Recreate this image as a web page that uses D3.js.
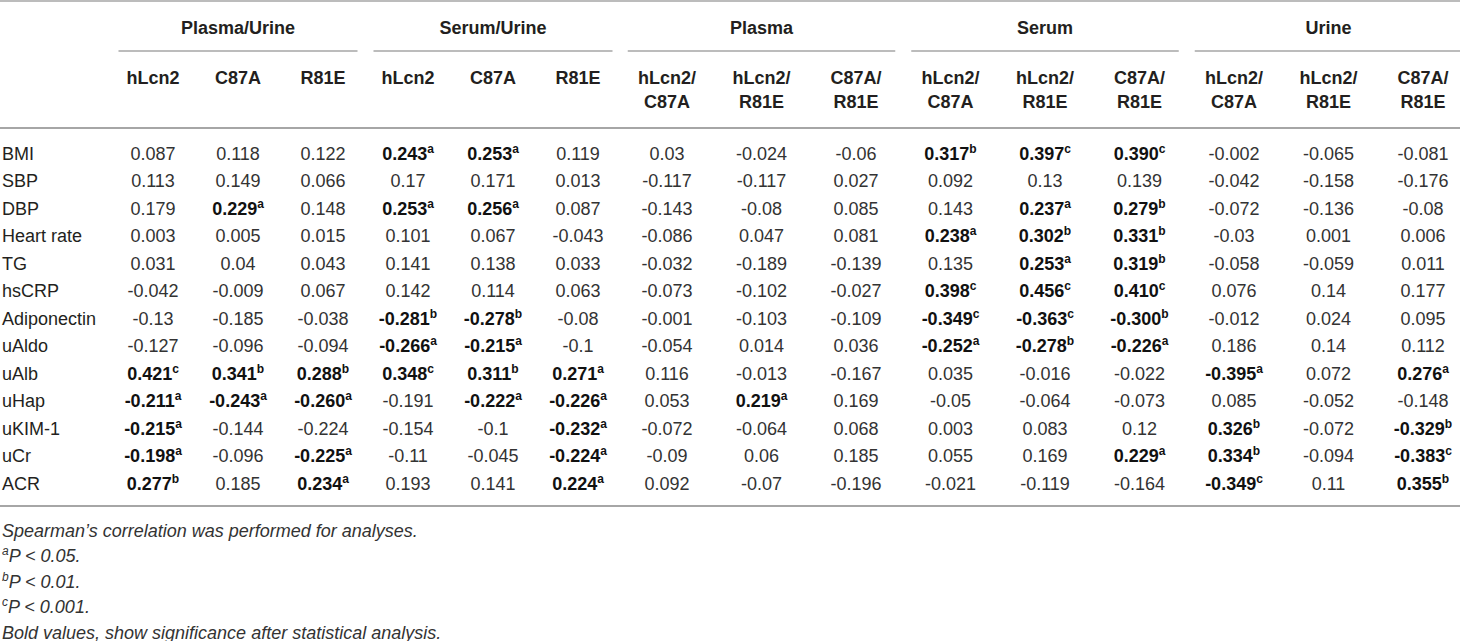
<!DOCTYPE html>
<html>
<head>
<meta charset="utf-8">
<script src="https://cdn.jsdelivr.net/npm/d3@7"></script>
<style>
  html, body { margin: 0; padding: 0; background: #fff; }
  svg { display: block; }
</style>
</head>
<body>
<svg id="chart" width="1460" height="641"></svg>
<script>
// ---------- DATA ----------
const rowLabels = ["BMI","SBP","DBP","Heart rate","TG","hsCRP","Adiponectin","uAldo","uAlb","uHap","uKIM-1","uCr","ACR"];

const groupLabels = ["Plasma/Urine","Serum/Urine","Plasma","Serum","Urine"];
const singleColLabels = ["hLcn2","C87A","R81E"];
const pairColLabels = [["hLcn2/","C87A"],["hLcn2/","R81E"],["C87A/","R81E"]];

// values (suffix letter = significance marker, shown bold)
const plasmaUrine_hLcn2 = ["0.087","0.113","0.179","0.003","0.031","-0.042","-0.13","-0.127","0.421c","-0.211a","-0.215a","-0.198a","0.277b"];
const plasmaUrine_C87A  = ["0.118","0.149","0.229a","0.005","0.04","-0.009","-0.185","-0.096","0.341b","-0.243a","-0.144","-0.096","0.185"];
const plasmaUrine_R81E  = ["0.122","0.066","0.148","0.015","0.043","0.067","-0.038","-0.094","0.288b","-0.260a","-0.224","-0.225a","0.234a"];
const serumUrine_hLcn2  = ["0.243a","0.17","0.253a","0.101","0.141","0.142","-0.281b","-0.266a","0.348c","-0.191","-0.154","-0.11","0.193"];
const serumUrine_C87A   = ["0.253a","0.171","0.256a","0.067","0.138","0.114","-0.278b","-0.215a","0.311b","-0.222a","-0.1","-0.045","0.141"];
const serumUrine_R81E   = ["0.119","0.013","0.087","-0.043","0.033","0.063","-0.08","-0.1","0.271a","-0.226a","-0.232a","-0.224a","0.224a"];
const plasma_hLcn2_C87A = ["0.03","-0.117","-0.143","-0.086","-0.032","-0.073","-0.001","-0.054","0.116","0.053","-0.072","-0.09","0.092"];
const plasma_hLcn2_R81E = ["-0.024","-0.117","-0.08","0.047","-0.189","-0.102","-0.103","0.014","-0.013","0.219a","-0.064","0.06","-0.07"];
const plasma_C87A_R81E  = ["-0.06","0.027","0.085","0.081","-0.139","-0.027","-0.109","0.036","-0.167","0.169","0.068","0.185","-0.196"];
const serum_hLcn2_C87A  = ["0.317b","0.092","0.143","0.238a","0.135","0.398c","-0.349c","-0.252a","0.035","-0.05","0.003","0.055","-0.021"];
const serum_hLcn2_R81E  = ["0.397c","0.13","0.237a","0.302b","0.253a","0.456c","-0.363c","-0.278b","-0.016","-0.064","0.083","0.169","-0.119"];
const serum_C87A_R81E   = ["0.390c","0.139","0.279b","0.331b","0.319b","0.410c","-0.300b","-0.226a","-0.022","-0.073","0.12","0.229a","-0.164"];
const urine_hLcn2_C87A  = ["-0.002","-0.042","-0.072","-0.03","-0.058","0.076","-0.012","0.186","-0.395a","0.085","0.326b","0.334b","-0.349c"];
const urine_hLcn2_R81E  = ["-0.065","-0.158","-0.136","0.001","-0.059","0.14","0.024","0.14","0.072","-0.052","-0.072","-0.094","0.11"];
const urine_C87A_R81E   = ["-0.081","-0.176","-0.08","0.006","0.011","0.177","0.095","0.112","0.276a","-0.148","-0.329b","-0.383c","0.355b"];

const footnotes = [
  {sup:"", text:"Spearman\u2019s correlation was performed for analyses."},
  {sup:"a", text:"P < 0.05."},
  {sup:"b", text:"P < 0.01."},
  {sup:"c", text:"P < 0.001."},
  {sup:"", text:"Bold values, show significance after statistical analysis."}
];

// ---------- BUILD TABLE MODEL ----------
const columns = [
  {key:"pu0", group:0, head:[singleColLabels[0]], vals:plasmaUrine_hLcn2},
  {key:"pu1", group:0, head:[singleColLabels[1]], vals:plasmaUrine_C87A},
  {key:"pu2", group:0, head:[singleColLabels[2]], vals:plasmaUrine_R81E},
  {key:"su0", group:1, head:[singleColLabels[0]], vals:serumUrine_hLcn2},
  {key:"su1", group:1, head:[singleColLabels[1]], vals:serumUrine_C87A},
  {key:"su2", group:1, head:[singleColLabels[2]], vals:serumUrine_R81E},
  {key:"p0", group:2, head:pairColLabels[0], vals:plasma_hLcn2_C87A},
  {key:"p1", group:2, head:pairColLabels[1], vals:plasma_hLcn2_R81E},
  {key:"p2", group:2, head:pairColLabels[2], vals:plasma_C87A_R81E},
  {key:"s0", group:3, head:pairColLabels[0], vals:serum_hLcn2_C87A},
  {key:"s1", group:3, head:pairColLabels[1], vals:serum_hLcn2_R81E},
  {key:"s2", group:3, head:pairColLabels[2], vals:serum_C87A_R81E},
  {key:"u0", group:4, head:pairColLabels[0], vals:urine_hLcn2_C87A},
  {key:"u1", group:4, head:pairColLabels[1], vals:urine_hLcn2_R81E},
  {key:"u2", group:4, head:pairColLabels[2], vals:urine_C87A_R81E}
];

const W = 1460;
const singleKeys = columns.filter(c => c.group < 2).map(c => c.key);
const pairKeys = columns.filter(c => c.group >= 2).map(c => c.key);
const xSingle = d3.scalePoint().domain(singleKeys).range([153, 578]);
const xPair = d3.scalePoint().domain(pairKeys).range([667, 1423]);
const xCol = k => singleKeys.includes(k) ? xSingle(k) : xPair(k);
const halfCell = k => singleKeys.includes(k) ? xSingle.step()/2 : xPair.step()/2;

const yRow = d3.scalePoint().domain(rowLabels).range([153, 483]);
const yFoot = d3.scalePoint().domain(d3.range(footnotes.length)).range([530, 632]);

const FS = 18;
const baseOff = 6.5;
const fontFam = "'Liberation Sans', Arial, Helvetica, sans-serif";
const lineColor = "#a6a6a6";
const textColor = "#231f20";

const svg = d3.select("#chart").attr("font-family", fontFam);

// ---------- RULES ----------
svg.append("line").attr("x1",0).attr("x2",W).attr("y1",1).attr("y2",1)
  .attr("stroke",lineColor).attr("stroke-width",1.6);
svg.append("line").attr("x1",0).attr("x2",W).attr("y1",128).attr("y2",128)
  .attr("stroke",lineColor).attr("stroke-width",2);
svg.append("line").attr("x1",0).attr("x2",W).attr("y1",506).attr("y2",506)
  .attr("stroke",lineColor).attr("stroke-width",2);

// ---------- GROUP HEADERS ----------
groupLabels.forEach((g, gi) => {
  const cols = columns.filter(c => c.group === gi);
  const first = cols[0].key, last = cols[cols.length-1].key;
  const x1 = Math.max(0, xCol(first) - halfCell(first) + 8);
  const x2 = Math.min(W, xCol(last) + halfCell(last) - 8);
  svg.append("line").attr("x1",x1).attr("x2",x2).attr("y1",51).attr("y2",51)
    .attr("stroke",lineColor).attr("stroke-width",1.5);
  svg.append("text").attr("x",(xCol(first)+xCol(last))/2).attr("y",27+baseOff)
    .attr("text-anchor","middle").attr("font-weight","bold").attr("font-size",FS)
    .attr("fill",textColor).text(g);
});

// ---------- COLUMN HEADERS ----------
columns.forEach(c => {
  c.head.forEach((h, i) => {
    svg.append("text").attr("x", xCol(c.key)).attr("y", 77 + i*24 + baseOff)
      .attr("text-anchor","middle").attr("font-weight","bold").attr("font-size",FS)
      .attr("fill",textColor).text(h);
  });
});

// ---------- ROW LABELS ----------
svg.append("g").selectAll("text").data(rowLabels).join("text")
  .attr("x", 2).attr("y", d => yRow(d) + baseOff)
  .attr("font-size", FS).attr("fill", textColor).text(d => d);

// ---------- CELLS ----------
const cells = [];
columns.forEach(c => c.vals.forEach((v, i) => {
  const m = v.match(/^(-?[0-9.]+)([abc]?)$/);
  cells.push({col:c.key, row:rowLabels[i], num:m[1], sig:m[2]});
}));

const cellSel = svg.append("g").selectAll("text").data(cells).join("text")
  .attr("x", d => xCol(d.col)).attr("y", d => yRow(d.row) + baseOff)
  .attr("text-anchor","middle").attr("font-size",FS)
  .attr("font-weight", d => d.sig ? "bold" : "normal")
  .attr("fill", d => d.sig ? "#111" : "#333");
cellSel.append("tspan").text(d => d.num);
cellSel.filter(d => d.sig).append("tspan")
  .attr("font-size", 12).attr("dy", -7).text(d => d.sig);

// ---------- FOOTNOTES ----------
const fn = svg.append("g").selectAll("text").data(footnotes).join("text")
  .attr("x", 2).attr("y", (d, i) => yFoot(i) + baseOff)
  .attr("font-size", FS).attr("font-style","italic").attr("fill","#333");
fn.filter(d => d.sup).append("tspan").attr("font-size",12).attr("dy",-7).text(d => d.sup);
fn.append("tspan").attr("dy", d => d.sup ? 7 : 0).text(d => d.text);
</script>
</body>
</html>
